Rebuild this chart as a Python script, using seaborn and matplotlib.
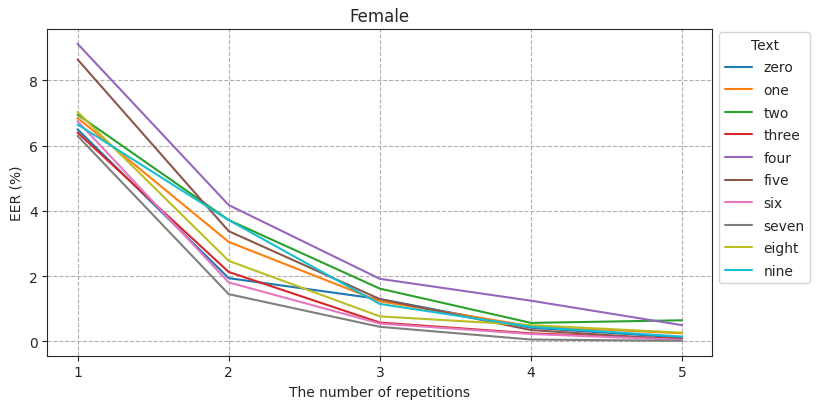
import matplotlib
matplotlib.use("Agg")
import matplotlib.pyplot as plt
import seaborn as sns
import pandas as pd

repetitions = [1, 2, 3, 4, 5]
digits = ["zero", "one", "two", "three", "four", "five", "six", "seven", "eight", "nine"]

eer_zero = [6.50, 1.94, 1.30, 0.42, 0.12]
eer_one = [6.85, 3.05, 1.23, 0.47, 0.25]
eer_two = [6.95, 3.72, 1.62, 0.57, 0.65]
eer_three = [6.40, 2.13, 0.58, 0.25, 0.08]
eer_four = [9.12, 4.18, 1.92, 1.25, 0.50]
eer_five = [8.64, 3.38, 1.30, 0.35, 0.05]
eer_six = [6.75, 1.81, 0.55, 0.23, 0.05]
eer_seven = [6.30, 1.45, 0.45, 0.06, 0.02]
eer_eight = [7.03, 2.47, 0.77, 0.50, 0.27]
eer_nine = [6.65, 3.72, 1.15, 0.45, 0.15]

series = [eer_zero, eer_one, eer_two, eer_three, eer_four,
          eer_five, eer_six, eer_seven, eer_eight, eer_nine]

rows = []
for name, vals in zip(digits, series):
    for r, v in zip(repetitions, vals):
        rows.append({"repetitions": r, "EER": v, "Text": name})
df = pd.DataFrame(rows)

sns.set_style("ticks")
fig, ax = plt.subplots(figsize=(8.16, 4.1), dpi=100)
sns.lineplot(data=df, x="repetitions", y="EER", hue="Text",
             hue_order=digits, palette="tab10", linewidth=1.5, ax=ax)

ax.set_xticks(repetitions)
ax.set_xlabel("The number of repetitions")
ax.set_ylabel("EER (%)")
ax.set_title("Female")
ax.grid(True, linestyle="--", color="#b0b0b0", linewidth=0.8)
ax.legend(title="Text", loc="upper left", bbox_to_anchor=(1.01, 0.99),
          borderaxespad=0, labelspacing=0.62)

fig.subplots_adjust(left=0.058, right=0.873, top=0.927, bottom=0.13)
fig.savefig("out.png", dpi=100)
